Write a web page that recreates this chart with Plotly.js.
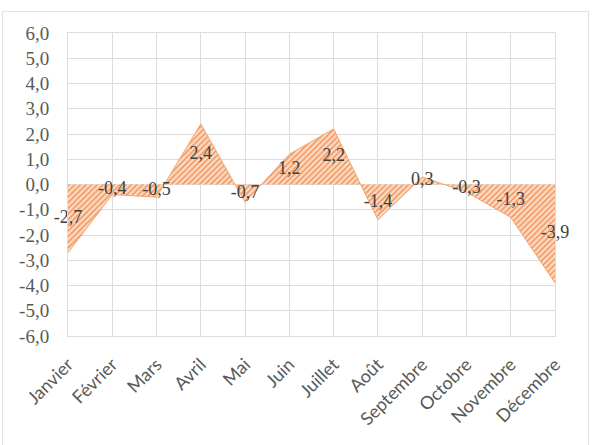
<!DOCTYPE html>
<html>
<head>
<meta charset="utf-8">
<script src="https://cdn.plot.ly/plotly-3.0.1.min.js"></script>
<style>
  html, body { margin: 0; padding: 0; background: #fff; }
  #wrap { position: relative; width: 596px; height: 445px; }
  #chart { width: 596px; height: 445px; }
  #frame { position: absolute; left: 2px; top: 11px; width: 587px; height: 440px; border: 1px solid #e3e3e3; pointer-events: none; box-sizing: border-box; }
</style>
</head>
<body>
<div id="wrap">
  <div id="chart"></div>
  <div id="frame"></div>
</div>
<script>
const months = ["Janvier","Février","Mars","Avril","Mai","Juin","Juillet","Août","Septembre","Octobre","Novembre","Décembre"];
const values = [-2.7, -0.4, -0.5, 2.4, -0.7, 1.2, 2.2, -1.4, 0.3, -0.3, -1.3, -3.9];
const yTicks = [-6,-5,-4,-3,-2,-1,0,1,2,3,4,5,6];

const idx = months.map((m, i) => i);
const fmt = v => v.toFixed(1).replace('.', ',');

const area = {
  type: 'scatter',
  mode: 'lines',
  x: idx,
  y: values,
  fill: 'tozeroy',
  fillcolor: '#fbd3b6',
  fillpattern: { shape: '/', bgcolor: '#fcd9c0', fgcolor: '#f0884a', size: 4, solidity: 0.3 },
  line: { color: '#f4a46e', width: 1 },
  hoverinfo: 'skip'
};

const labels = {
  type: 'scatter',
  mode: 'text',
  x: idx,
  y: values.map(v => v / 2),
  text: values.map(fmt),
  textposition: 'middle center',
  textfont: { family: 'Liberation Serif, DejaVu Serif, serif', size: 18, color: '#404040' },
  hoverinfo: 'skip',
  cliponaxis: false
};

const layout = {
  width: 596,
  height: 445,
  margin: { l: 68, r: 41, t: 33, b: 109 },
  paper_bgcolor: '#ffffff',
  plot_bgcolor: '#ffffff',
  showlegend: false,
  xaxis: {
    range: [0, 11],
    tickvals: idx,
    ticktext: months,
    tickangle: -45,
    showgrid: true,
    gridcolor: '#dcdcdc',
    gridwidth: 1,
    showline: true,
    linecolor: '#dcdcdc',
    mirror: true,
    zeroline: false,
    ticks: '',
    ticklabelstandoff: 10,
    tickfont: { family: 'Lato, Open Sans, sans-serif', size: 18, color: '#595959' },
    fixedrange: true
  },
  yaxis: {
    range: [-6, 6],
    tickvals: yTicks,
    ticktext: yTicks.map(fmt),
    showgrid: true,
    gridcolor: '#dcdcdc',
    gridwidth: 1,
    showline: true,
    linecolor: '#dcdcdc',
    mirror: true,
    zeroline: false,
    ticks: '',
    ticklabelstandoff: 14,
    tickfont: { family: 'Liberation Serif, DejaVu Serif, serif', size: 19, color: '#595959' },
    fixedrange: true
  }
};

Plotly.newPlot('chart', [area, labels], layout, { displayModeBar: false, staticPlot: true });
</script>
</body>
</html>
